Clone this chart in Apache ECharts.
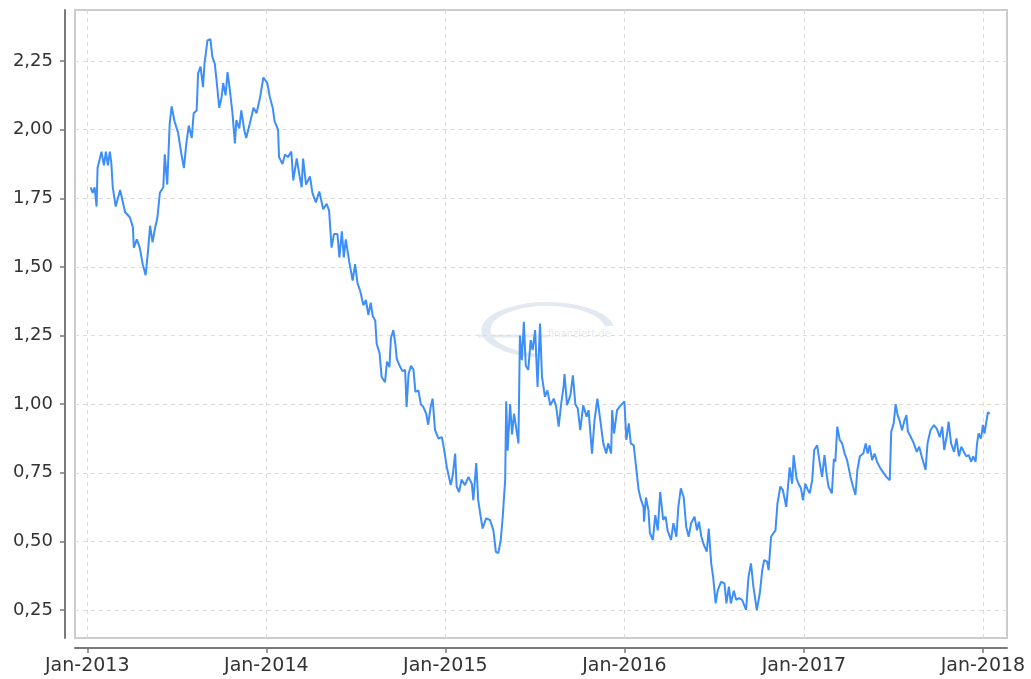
<!DOCTYPE html>
<html>
<head>
<meta charset="utf-8">
<script src="https://cdn.jsdelivr.net/npm/echarts@6/dist/echarts.min.js"></script>
<style>
  html, body { margin: 0; padding: 0; background: #ffffff; }
  #chart { width: 1031px; height: 679px; }
</style>
</head>
<body>
<div id="chart"></div>
<script>
const dates = [
  '2013-01-08','2013-01-12','2013-01-16','2013-01-20','2013-01-22','2013-01-30','2013-02-04','2013-02-08','2013-02-12','2013-02-16',
  '2013-02-19','2013-02-22','2013-02-28','2013-03-09','2013-03-14','2013-03-19','2013-03-29','2013-04-04','2013-04-06','2013-04-12',
  '2013-04-18','2013-04-24','2013-04-30','2013-05-05','2013-05-09','2013-05-14','2013-05-19','2013-05-24','2013-05-29','2013-06-05',
  '2013-06-08','2013-06-13','2013-06-18','2013-06-22','2013-06-28','2013-07-05','2013-07-12','2013-07-17','2013-07-22','2013-07-27',
  '2013-08-02','2013-08-06','2013-08-12','2013-08-15','2013-08-20','2013-08-25','2013-08-28','2013-09-03','2013-09-09','2013-09-13',
  '2013-09-18','2013-09-21','2013-09-27','2013-10-02','2013-10-05','2013-10-10','2013-10-14','2013-10-19','2013-10-24','2013-10-29',
  '2013-11-01','2013-11-07','2013-11-11','2013-11-17','2013-11-21','2013-11-28','2013-12-06','2013-12-12','2013-12-19','2013-12-26',
  '2014-01-03','2014-01-08','2014-01-14','2014-01-18','2014-01-25','2014-01-27','2014-02-03','2014-02-08','2014-02-14','2014-02-21',
  '2014-02-25','2014-03-04','2014-03-09','2014-03-14','2014-03-17','2014-03-23','2014-03-31','2014-04-05','2014-04-12','2014-04-19',
  '2014-04-27','2014-05-04','2014-05-09','2014-05-14','2014-05-19','2014-05-26','2014-05-30','2014-06-04','2014-06-08','2014-06-12',
  '2014-06-19','2014-06-26','2014-07-01','2014-07-06','2014-07-11','2014-07-18','2014-07-23','2014-07-28','2014-08-02','2014-08-06',
  '2014-08-11','2014-08-14','2014-08-20','2014-08-24','2014-08-31','2014-09-04','2014-09-09','2014-09-12','2014-09-17','2014-09-21',
  '2014-09-24','2014-10-01','2014-10-06','2014-10-11','2014-10-14','2014-10-18','2014-10-23','2014-10-28','2014-11-01','2014-11-07',
  '2014-11-12','2014-11-17','2014-11-23','2014-11-27','2014-12-02','2014-12-06','2014-12-11','2014-12-18','2014-12-25','2014-12-29',
  '2015-01-04','2015-01-07','2015-01-12','2015-01-16','2015-01-21','2015-01-24','2015-01-29','2015-02-03','2015-02-10','2015-02-17',
  '2015-02-24','2015-02-27','2015-03-05','2015-03-09','2015-03-14','2015-03-18','2015-03-25','2015-04-02','2015-04-09','2015-04-14',
  '2015-04-19','2015-04-24','2015-04-28','2015-05-03','2015-05-05','2015-05-08','2015-05-13','2015-05-17','2015-05-21','2015-05-25',
  '2015-05-30','2015-06-02','2015-06-06','2015-06-10','2015-06-14','2015-06-19','2015-06-24','2015-06-28','2015-07-03','2015-07-08',
  '2015-07-13','2015-07-17','2015-07-23','2015-07-28','2015-08-03','2015-08-10','2015-08-15','2015-08-20','2015-08-25','2015-08-30',
  '2015-09-01','2015-09-06','2015-09-13','2015-09-18','2015-09-23','2015-09-28','2015-10-03','2015-10-09','2015-10-16','2015-10-20',
  '2015-10-27','2015-11-01','2015-11-07','2015-11-13','2015-11-19','2015-11-25','2015-11-29','2015-12-05','2015-12-07','2015-12-11',
  '2015-12-17','2015-12-22','2015-12-27','2016-01-01','2016-01-05','2016-01-10','2016-01-14','2016-01-20','2016-01-25','2016-01-30',
  '2016-02-04','2016-02-09','2016-02-10','2016-02-14','2016-02-19','2016-02-22','2016-02-28','2016-03-04','2016-03-09','2016-03-14',
  '2016-03-20','2016-03-25','2016-03-29','2016-04-05','2016-04-10','2016-04-16','2016-04-20','2016-04-25','2016-05-01','2016-05-06',
  '2016-05-11','2016-05-16','2016-05-23','2016-05-28','2016-06-01','2016-06-06','2016-06-11','2016-06-17','2016-06-21','2016-06-26',
  '2016-06-30','2016-07-05','2016-07-09','2016-07-16','2016-07-23','2016-07-27','2016-08-01','2016-08-05','2016-08-11','2016-08-16',
  '2016-08-22','2016-08-28','2016-09-01','2016-09-05','2016-09-10','2016-09-15','2016-09-20','2016-09-27','2016-10-03','2016-10-08',
  '2016-10-12','2016-10-18','2016-10-21','2016-10-26','2016-10-31','2016-11-04','2016-11-08','2016-11-14','2016-11-19','2016-11-26',
  '2016-12-03','2016-12-08','2016-12-11','2016-12-17','2016-12-21','2016-12-26','2016-12-30','2017-01-04','2017-01-09','2017-01-13',
  '2017-01-18','2017-01-22','2017-01-28','2017-02-02','2017-02-07','2017-02-12','2017-02-16','2017-02-20','2017-02-27','2017-03-03',
  '2017-03-06','2017-03-10','2017-03-15','2017-03-20','2017-03-25','2017-03-30','2017-04-06','2017-04-11','2017-04-16','2017-04-20',
  '2017-04-25','2017-05-02','2017-05-07','2017-05-11','2017-05-15','2017-05-20','2017-05-25','2017-05-30','2017-06-06','2017-06-13',
  '2017-06-18','2017-06-25','2017-06-28','2017-07-03','2017-07-07','2017-07-11','2017-07-15','2017-07-20','2017-07-25','2017-07-29',
  '2017-08-01','2017-08-07','2017-08-13','2017-08-19','2017-08-24','2017-08-29','2017-09-02','2017-09-06','2017-09-10','2017-09-16',
  '2017-09-23','2017-09-29','2017-10-05','2017-10-10','2017-10-14','2017-10-20','2017-10-23','2017-10-28','2017-11-03','2017-11-08',
  '2017-11-13','2017-11-18','2017-11-23','2017-11-28','2017-12-03','2017-12-08','2017-12-12','2017-12-17','2017-12-20','2017-12-23',
  '2017-12-28','2018-01-01','2018-01-04','2018-01-08','2018-01-11','2018-01-15'
];
const values = [
  1.79,1.77,1.79,1.72,1.86,1.92,1.87,1.92,1.87,1.92,
  1.88,1.79,1.72,1.78,1.74,1.70,1.68,1.645,1.57,1.60,
  1.57,1.51,1.47,1.56,1.65,1.59,1.64,1.68,1.77,1.79,
  1.91,1.80,2.02,2.085,2.03,1.99,1.91,1.86,1.95,2.015,
  1.97,2.06,2.07,2.205,2.23,2.155,2.24,2.325,2.33,2.265,
  2.24,2.19,2.08,2.12,2.17,2.125,2.21,2.14,2.06,1.95,
  2.035,2.005,2.07,2.00,1.97,2.02,2.08,2.06,2.115,2.19,
  2.17,2.12,2.08,2.03,2.00,1.90,1.875,1.91,1.90,1.92,
  1.815,1.895,1.84,1.79,1.895,1.80,1.83,1.77,1.735,1.775,
  1.71,1.73,1.705,1.57,1.62,1.62,1.535,1.63,1.535,1.60,
  1.52,1.45,1.51,1.44,1.415,1.36,1.38,1.325,1.37,1.32,
  1.305,1.22,1.185,1.10,1.08,1.155,1.135,1.24,1.27,1.22,
  1.165,1.135,1.12,1.125,0.99,1.11,1.14,1.125,1.045,1.05,
  1.00,0.99,0.965,0.925,0.99,1.02,0.905,0.875,0.88,0.84,
  0.77,0.77,0.705,0.74,0.82,0.70,0.68,0.725,0.705,0.735,
  0.71,0.65,0.785,0.65,0.59,0.547,0.584,0.578,0.54,0.462,
  0.457,0.505,0.59,0.725,1.01,0.83,1.00,0.89,0.965,0.918,
  0.857,1.25,1.16,1.30,1.14,1.125,1.233,1.197,1.27,1.063,
  1.294,1.10,1.027,1.05,0.996,1.02,0.99,0.918,1.00,1.063,
  1.11,0.996,1.033,1.105,1.00,0.984,0.905,0.996,0.954,0.978,
  0.82,0.94,1.02,0.94,0.857,0.82,0.857,0.82,0.978,0.893,
  0.978,0.99,1.00,1.01,0.87,0.93,0.857,0.85,0.77,0.687,
  0.65,0.626,0.572,0.66,0.614,0.53,0.505,0.596,0.54,0.68,
  0.578,0.59,0.54,0.505,0.566,0.517,0.626,0.693,0.66,0.553,
  0.517,0.566,0.59,0.54,0.572,0.517,0.487,0.463,0.547,0.42,
  0.37,0.274,0.32,0.353,0.347,0.274,0.335,0.274,0.32,0.287,
  0.293,0.287,0.293,0.25,0.37,0.42,0.335,0.25,0.31,0.395,
  0.432,0.426,0.395,0.517,0.53,0.54,0.638,0.70,0.687,0.626,
  0.77,0.71,0.814,0.73,0.71,0.693,0.65,0.71,0.687,0.675,
  0.725,0.833,0.85,0.79,0.735,0.814,0.748,0.70,0.675,0.80,
  0.79,0.918,0.87,0.857,0.82,0.796,0.735,0.70,0.669,0.76,
  0.81,0.82,0.857,0.82,0.85,0.796,0.82,0.79,0.766,0.748,
  0.735,0.723,0.90,0.93,1.00,0.96,0.94,0.905,0.94,0.96,
  0.90,0.88,0.857,0.826,0.845,0.81,0.814,0.76,0.857,0.905,
  0.924,0.91,0.88,0.918,0.833,0.893,0.936,0.857,0.826,0.875,
  0.81,0.845,0.826,0.81,0.814,0.79,0.81,0.79,0.857,0.893,
  0.875,0.924,0.893,0.887,0.97,0.965
];
const xTickDates = ['2013-01-01','2014-01-01','2015-01-01','2016-01-01','2017-01-01','2018-01-01'];
const yTickValues = [0.25, 0.50, 0.75, 1.00, 1.25, 1.50, 1.75, 2.00, 2.25];
const xRange = ['2012-12-07', '2018-02-19'];
const yRange = [0.148, 2.436];

const toTime = d => Date.UTC(+d.slice(0, 4), +d.slice(5, 7) - 1, +d.slice(8, 10));
const chart = echarts.init(document.getElementById('chart'), null, { renderer: 'canvas' });
const seriesData = dates.map((d, i) => [toTime(d), values[i]]);
const xTicks = xTickDates.map(toTime);
const months = ['Jan','Feb','Mar','Apr','May','Jun','Jul','Aug','Sep','Oct','Nov','Dec'];

const axisColor = '#7a7a7a';
const splitStyle = { color: '#dcdcdc', width: 1, type: [4, 4] };

chart.setOption({
  animation: false,
  backgroundColor: '#ffffff',
  grid: {
    left: 75, right: 24, top: 10, bottom: 41,
    show: true, borderColor: '#cccccc', borderWidth: 2, backgroundColor: 'transparent'
  },
  graphic: [
    {
      type: 'arc', x: 548, y: 330, scaleY: 0.42, z: 0, silent: true,
      shape: { cx: 0, cy: 0, r: 62, startAngle: Math.PI * 0.55, endAngle: Math.PI * 1.95 },
      style: { stroke: '#e3e9f0', lineWidth: 9, fill: null }
    },
    {
      type: 'text', x: 548, y: 334, z: 0, silent: true,
      style: { text: 'finanziert.de', fill: '#e4e9ef', font: '10px "DejaVu Sans"', align: 'left', verticalAlign: 'middle' }
    },
    {
      type: 'line', z: 0, silent: true,
      shape: { x1: 478, y1: 336, x2: 548, y2: 336 },
      style: { stroke: '#e6ebf1', lineWidth: 3 }
    }
  ],
  xAxis: {
    type: 'value',
    min: toTime(xRange[0]),
    max: toTime(xRange[1]),
    offset: 10,
    axisLine: { show: true, lineStyle: { color: axisColor, width: 2 } },
    axisTick: { show: true, length: 5, customValues: xTicks, lineStyle: { color: axisColor, width: 1.5 } },
    axisLabel: {
      customValues: xTicks,
      margin: 9,
      color: '#333333',
      fontSize: 19,
      fontFamily: 'DejaVu Sans',
      formatter: v => { const d = new Date(v); return months[d.getUTCMonth()] + '-' + d.getUTCFullYear(); }
    },
    splitLine: { show: true, lineStyle: splitStyle }
  },
  yAxis: {
    type: 'value',
    min: yRange[0],
    max: yRange[1],
    offset: 10,
    axisLine: { show: true, lineStyle: { color: axisColor, width: 2 } },
    axisTick: { show: true, length: 5, customValues: yTickValues, lineStyle: { color: axisColor, width: 1.5 } },
    axisLabel: {
      customValues: yTickValues,
      margin: 12,
      color: '#333333',
      fontSize: 18,
      fontFamily: 'DejaVu Sans',
      formatter: v => v.toFixed(2).replace('.', ',')
    },
    splitLine: { show: true, lineStyle: splitStyle }
  },
  series: [{
    type: 'line',
    data: seriesData,
    showSymbol: false,
    symbol: 'none',
    z: 3,
    lineStyle: { color: '#3d8ef7', width: 2 },
    itemStyle: { color: '#3d8ef7' }
  }]
});
</script>
</body>
</html>
